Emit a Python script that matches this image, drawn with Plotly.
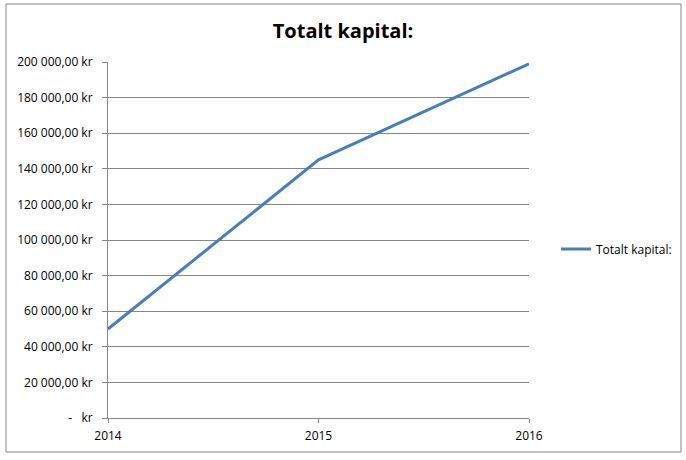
import plotly.graph_objects as go

years = ["2014", "2015", "2016"]
kapital = [50000, 145000, 199000]
series_name = "Totalt kapital:"
title_text = "Totalt kapital:"
y_tickvals = [0, 20000, 40000, 60000, 80000, 100000, 120000, 140000, 160000, 180000, 200000]
y_ticktext = ["-   kr", "20 000,00 kr", "40 000,00 kr", "60 000,00 kr", "80 000,00 kr",
              "100 000,00 kr", "120 000,00 kr", "140 000,00 kr", "160 000,00 kr",
              "180 000,00 kr", "200 000,00 kr"]

W, H = 686, 460
L, R, T, B = 108, 529, 62, 418

fig = go.Figure()
fig.add_trace(go.Scatter(
    x=years, y=kapital, mode="lines", name=series_name,
    line=dict(color="#4a7ebb", width=3),
    showlegend=True,
))

def px_to_paper_x(px):
    return (px - L) / (R - L)

def px_to_paper_y(py):
    return (B - py) / (B - T)

fig.add_shape(type="rect", xref="paper", yref="paper",
              x0=px_to_paper_x(6), x1=px_to_paper_x(681),
              y0=px_to_paper_y(452), y1=px_to_paper_y(4),
              line=dict(color="#868686", width=1), fillcolor="rgba(0,0,0,0)", layer="below")

fig.update_layout(
    width=W, height=H,
    margin=dict(l=L, r=W - R, t=T, b=H - B, autoexpand=False),
    paper_bgcolor="white", plot_bgcolor="white",
    title=dict(text=title_text, x=0.5, xanchor="center", xref="container",
               y=1 - 31 / H, yanchor="middle", yref="container",
               font=dict(family="Open Sans", size=20, color="black", weight="bold")),
    font=dict(family="Open Sans", size=12, color="black"),
    legend=dict(x=px_to_paper_x(556), y=px_to_paper_y(249), xanchor="left", yanchor="middle",
                font=dict(size=12, color="black"), bgcolor="rgba(0,0,0,0)",
                itemwidth=30),
    showlegend=True,
)

fig.update_xaxes(
    type="category", range=[0, 2],
    showgrid=False, showline=True, linecolor="#868686", linewidth=1,
    ticks="outside", ticklen=4, tickcolor="#868686",
    tickfont=dict(size=12, color="black"), ticklabelstandoff=3,
    zeroline=False, fixedrange=True,
)
fig.update_yaxes(
    range=[0, 200000], tickvals=y_tickvals, ticktext=y_ticktext,
    showgrid=True, gridcolor="#868686", gridwidth=1,
    showline=True, linecolor="#868686", linewidth=1,
    ticks="outside", ticklen=5, tickcolor="#868686",
    tickfont=dict(size=12, color="black"), ticklabelstandoff=7,
    zeroline=False, fixedrange=True,
)

fig.write_html("out.html", config={"displayModeBar": False},
               post_script="document.body.style.margin='0px';document.body.style.padding='0px';")
